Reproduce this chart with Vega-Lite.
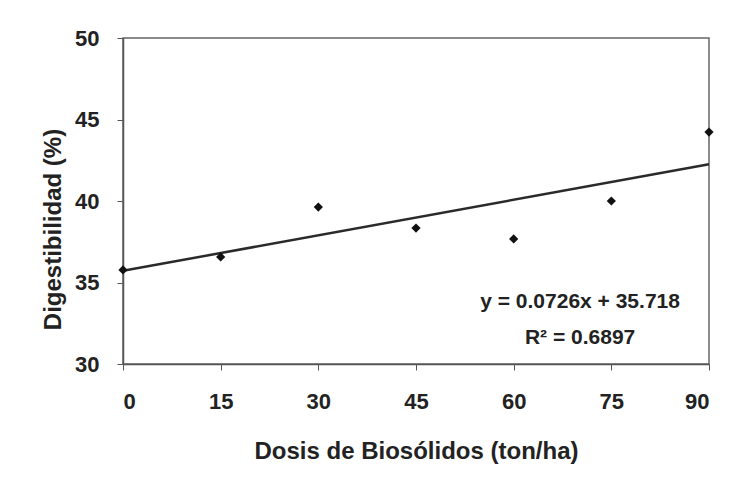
{
  "$schema": "https://vega.github.io/schema/vega-lite/v6.json",
  "width": 586,
  "height": 326,
  "autosize": "none",
  "padding": {"left": 123, "top": 38, "right": 26, "bottom": 115},
  "background": "white",
  "config": {
    "view": {"stroke": "#666", "strokeWidth": 1.5},
    "font": "Liberation Sans",
    "axis": {
      "grid": false,
      "domainColor": "#555",
      "domainWidth": 1.5,
      "tickColor": "#555",
      "tickSize": 6,
      "tickWidth": 1,
      "labelFont": "Liberation Sans",
      "labelFontWeight": "bold",
      "labelFontSize": 22,
      "labelColor": "#222",
      "titleFont": "Liberation Sans",
      "titleFontWeight": "bold",
      "titleFontSize": 24,
      "titleColor": "#222"
    }
  },
  "datasets": {
    "points": [
      {"dosis": 0, "dig": 35.77},
      {"dosis": 15, "dig": 36.57},
      {"dosis": 30, "dig": 39.63},
      {"dosis": 45, "dig": 38.34},
      {"dosis": 60, "dig": 37.67},
      {"dosis": 75, "dig": 40.0},
      {"dosis": 90, "dig": 44.23}
    ],
    "trend": [
      {"dosis": 0, "dig": 35.718},
      {"dosis": 90, "dig": 42.252}
    ],
    "notes": [
      {"label": "y = 0.0726x + 35.718", "nx": 70.2, "ny": 33.8},
      {"label": "R² = 0.6897", "nx": 70.2, "ny": 31.6}
    ]
  },
  "layer": [
    {
      "data": {"name": "trend"},
      "mark": {"type": "line", "color": "#2a2a2a", "strokeWidth": 2.5},
      "encoding": {
        "x": {
          "field": "dosis", "type": "quantitative",
          "scale": {"domain": [0, 90], "nice": false},
          "axis": {"values": [0, 15, 30, 45, 60, 75, 90], "title": "Dosis de Biosólidos (ton/ha)", "labelPadding": 21, "titlePadding": 27}
        },
        "y": {
          "field": "dig", "type": "quantitative",
          "scale": {"domain": [30, 50], "nice": false, "zero": false},
          "axis": {"values": [30, 35, 40, 45, 50], "title": "Digestibilidad (%)", "labelPadding": 18, "titleX": -70, "titleY": 191, "titleBaseline": "middle"}
        }
      }
    },
    {
      "data": {"name": "points"},
      "mark": {"type": "point", "shape": "diamond", "filled": true, "color": "#111", "size": 85, "opacity": 1},
      "encoding": {
        "x": {"field": "dosis", "type": "quantitative"},
        "y": {"field": "dig", "type": "quantitative"}
      }
    },
    {
      "data": {"name": "notes"},
      "mark": {"type": "text", "font": "Liberation Sans", "fontWeight": "bold", "fontSize": 21, "color": "#222", "align": "center", "baseline": "middle"},
      "encoding": {
        "x": {"field": "nx", "type": "quantitative"},
        "y": {"field": "ny", "type": "quantitative"},
        "text": {"field": "label"}
      }
    }
  ]
}
